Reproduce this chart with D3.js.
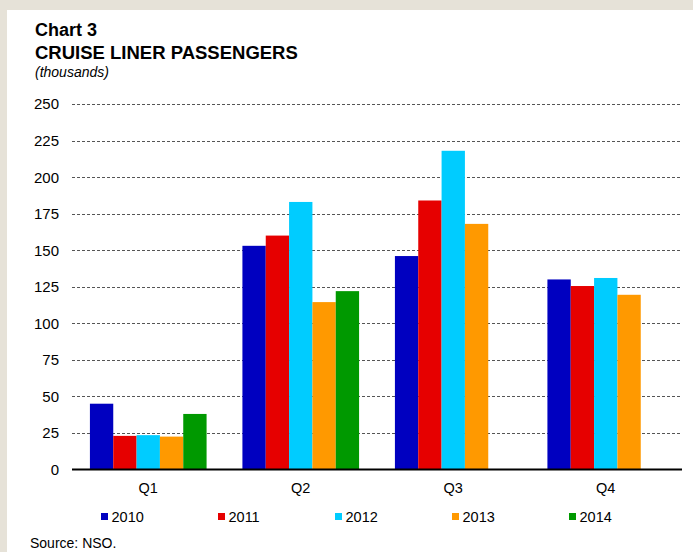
<!DOCTYPE html>
<html>
<head>
<meta charset="utf-8">
<script src="https://cdn.jsdelivr.net/npm/d3@7"></script>
<style>
  body { margin: 0; background: #E6E2D8; }
  svg { display: block; font-family: "Liberation Sans", Arial, sans-serif; }
</style>
</head>
<body>
<div id="chart"></div>
<script>
// data (thousands of passengers)
const quarters = ["Q1", "Q2", "Q3", "Q4"]
const years = ["2010", "2011", "2012", "2013", "2014"]
const v2010 = [45, 153, 146, 130]
const v2011 = [23, 160, 184, 125.5]
const v2012 = [23.5, 183, 218, 131]
const v2013 = [22.5, 114.5, 168, 119.5]
const v2014 = [38, 122, null, null]
const yTicks = [0, 25, 50, 75, 100, 125, 150, 175, 200, 225, 250]
const colors = ["#0000C0", "#E60000", "#00CCFF", "#FF9900", "#009900"]

const series = [v2010, v2011, v2012, v2013, v2014]

const width = 693
const height = 552
const plotLeft = 72, plotRight = 682
const plotTop = 104, plotBottom = 469.5

const svg = d3.select("#chart").append("svg")
    .attr("width", width)
    .attr("height", height)

// beige frame, white panel
svg.append("rect").attr("width", width).attr("height", height).attr("fill", "#E6E2D8")
svg.append("rect").attr("x", 7).attr("y", 10).attr("width", width - 7).attr("height", height - 10).attr("fill", "#ffffff")

// titles
svg.append("text").attr("x", 35).attr("y", 36)
    .attr("font-size", "18px").attr("font-weight", "bold").attr("fill", "#000")
    .text("Chart 3")
svg.append("text").attr("x", 35).attr("y", 59)
    .attr("font-size", "18.5px").attr("font-weight", "bold").attr("fill", "#000")
    .text("CRUISE LINER PASSENGERS")
svg.append("text").attr("x", 35).attr("y", 77)
    .attr("font-size", "14px").attr("font-style", "italic").attr("fill", "#000")
    .text("(thousands)")

const y = d3.scaleLinear().domain([0, 250]).range([plotBottom, plotTop])
const x0 = d3.scaleBand().domain(quarters).range([plotLeft, plotRight])
const x1 = d3.scaleBand().domain(years).range([0, x0.bandwidth()])
    .paddingInner(0).paddingOuter(0.768)

// gridlines (dashed)
svg.append("g")
    .selectAll("line")
    .data(yTicks.filter(t => t > 0))
    .join("line")
    .attr("x1", plotLeft).attr("x2", plotRight)
    .attr("y1", d => Math.round(y(d)) + 0.5)
    .attr("y2", d => Math.round(y(d)) + 0.5)
    .attr("stroke", "#555")
    .attr("stroke-width", 1)
    .attr("stroke-dasharray", "3,2")

// y tick labels
svg.append("g")
    .selectAll("text")
    .data(yTicks)
    .join("text")
    .attr("x", 59)
    .attr("y", d => y(d))
    .attr("dy", "0.36em")
    .attr("text-anchor", "end")
    .attr("font-size", "15px")
    .attr("fill", "#000")
    .text(d => d)

// bars
const rows = []
quarters.forEach((q, qi) => {
    years.forEach((yr, yi) => {
        const v = series[yi][qi]
        if (v !== null) rows.push({q: q, year: yr, value: v, color: colors[yi]})
    })
})

svg.append("g")
    .selectAll("rect")
    .data(rows)
    .join("rect")
    .attr("x", d => x0(d.q) + x1(d.year))
    .attr("width", x1.bandwidth())
    .attr("y", d => y(d.value))
    .attr("height", d => y(0) - y(d.value))
    .attr("fill", d => d.color)

// zero axis
svg.append("line")
    .attr("x1", plotLeft).attr("x2", plotRight)
    .attr("y1", plotBottom).attr("y2", plotBottom)
    .attr("stroke", "#000").attr("stroke-width", 2)

// category labels
svg.append("g")
    .selectAll("text")
    .data(quarters)
    .join("text")
    .attr("x", d => x0(d) + x0.bandwidth() / 2)
    .attr("y", 493)
    .attr("text-anchor", "middle")
    .attr("font-size", "14.5px")
    .attr("fill", "#000")
    .text(d => d)

// legend
const legend = svg.append("g")
    .selectAll("g")
    .data(years)
    .join("g")
    .attr("transform", (d, i) => `translate(${101 + i * 117},513)`)
legend.append("rect")
    .attr("width", 7).attr("height", 7)
    .attr("fill", (d, i) => colors[i])
legend.append("text")
    .attr("x", 10.5).attr("y", 9)
    .attr("font-size", "14.5px")
    .attr("fill", "#000")
    .text(d => d)

// source
svg.append("text").attr("x", 30).attr("y", 548)
    .attr("font-size", "14px").attr("fill", "#000")
    .text("Source: NSO.")
</script>
</body>
</html>
